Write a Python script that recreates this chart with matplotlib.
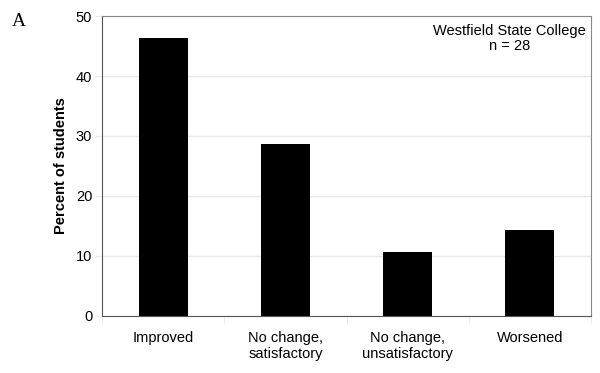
import numpy as np
import matplotlib.pyplot as plt

plt.rcParams['font.family'] = ['Liberation Sans', 'DejaVu Sans']

categories = ["Improved", "No change,\nsatisfactory", "No change,\nunsatisfactory", "Worsened"]
percent = [46.4, 28.6, 10.7, 14.3]
yticks = [0, 10, 20, 30, 40, 50]

fig = plt.figure(figsize=(6, 3.73), dpi=100)
ax = fig.add_axes([0.17, 0.153, 0.815, 0.804])

x = np.arange(len(categories))
ax.bar(x, percent, width=0.40, color="black", zorder=2)

ax.set_xlim(-0.5, len(categories) - 0.5)
ax.set_ylim(0, 50)
ax.set_yticks(yticks)
ax.set_yticklabels([str(t) for t in yticks], fontsize=10.5)
ax.tick_params(axis="y", length=5, color="#e6eaea", pad=2)

# category labels sit between boundary ticks
ax.set_xticks(x)
ax.set_xticklabels(categories, fontsize=10.5)
ax.tick_params(axis="x", length=0, pad=11)
ax.set_xticks(np.arange(len(categories) + 1) - 0.5, minor=True)
ax.tick_params(axis="x", which="minor", length=5, color="#e6eaea")

ax.grid(axis="y", color="#e6eaea", linewidth=1, zorder=0)
for side in ["top", "right"]:
    ax.spines[side].set_color("#888888")
for side in ["left", "bottom"]:
    ax.spines[side].set_color("#555555")

ax.set_ylabel("Percent of students", fontsize=10.5, fontweight="bold", labelpad=6)

ax.text(0.834, 0.975, "Westfield State College\nn = 28", transform=ax.transAxes,
        ha="center", va="top", fontsize=10.5, linespacing=1.1)

fig.text(0.02, 0.93, "A", fontsize=14, family=["Liberation Serif", "DejaVu Serif"])

fig.savefig("out.png", dpi=100)
